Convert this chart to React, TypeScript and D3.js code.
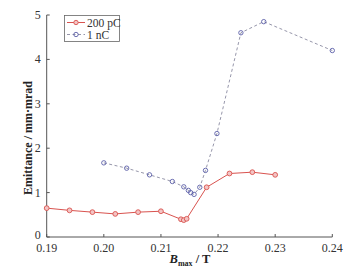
import React from "react";
import * as d3 from "d3";

const xTicks = [0.19, 0.2, 0.21, 0.22, 0.23, 0.24];
const yTicks = [0, 1, 2, 3, 4, 5];

const pc200X = [0.19, 0.194, 0.198, 0.202, 0.206, 0.21, 0.2135, 0.214, 0.2145, 0.218, 0.222, 0.226, 0.23];
const pc200Y = [0.65, 0.6, 0.56, 0.52, 0.56, 0.58, 0.4, 0.38, 0.41, 1.12, 1.43, 1.46, 1.4];

const nc1X = [0.2, 0.204, 0.208, 0.212, 0.214, 0.2148, 0.2152, 0.2158, 0.2168, 0.2178, 0.2198, 0.224, 0.228, 0.24];
const nc1Y = [1.67, 1.55, 1.4, 1.25, 1.13, 1.05, 1.0, 0.96, 1.12, 1.5, 2.33, 4.6, 4.85, 4.2];

const W = 363, H = 270;
const left = 46.7, right = 332.3, top = 15, bottom = 237;

export default function App() {
  const x = d3.scaleLinear().domain([0.19, 0.24]).range([left, right]);
  const y = d3.scaleLinear().domain([0, 5]).range([bottom, top]);
  const red = pc200X.map((v, i) => [v, pc200Y[i]] as [number, number]);
  const blue = nc1X.map((v, i) => [v, nc1Y[i]] as [number, number]);
  const line = d3.line<[number, number]>().x(d => x(d[0])).y(d => y(d[1]));
  const font = "'Liberation Serif', 'Times New Roman', serif";
  const redC = "#d9534f";
  const blueC = "#5b5fa8";
  const grayLine = "#8a8aa0";
  return (
    <svg width={W} height={H} style={{ position: "absolute", left: 0, top: 0 }} fontFamily={font}>
      <rect width={W} height={H} fill="#fff" />
      {/* axes */}
      <line x1={left} x2={left} y1={top} y2={bottom} stroke="#555" strokeWidth={1} />
      <line x1={left} x2={right} y1={bottom} y2={bottom} stroke="#555" strokeWidth={1} />
      {yTicks.map(t => (
        <g key={"y" + t}>
          <line x1={left} x2={left + 3} y1={y(t)} y2={y(t)} stroke="#555" />
          <text x={left - 6} y={y(t) + (t === 0 ? 2 : 4)} textAnchor="end" fontSize={12} fill="#333">{t}</text>
        </g>
      ))}
      {xTicks.map(t => (
        <g key={"x" + t}>
          <line x1={x(t)} x2={x(t)} y1={bottom} y2={bottom - 3} stroke="#555" />
          <text x={x(t)} y={bottom + 15} textAnchor="middle" fontSize={12} fill="#333">{t.toFixed(2)}</text>
        </g>
      ))}
      {/* series */}
      <path d={line(blue) || ""} fill="none" stroke={grayLine} strokeWidth={0.9} strokeDasharray="3,2.5" />
      {blue.map((d, i) => (
        <circle key={"b" + i} cx={x(d[0])} cy={y(d[1])} r={2.2} fill="none" stroke={blueC} strokeWidth={0.9} />
      ))}
      <path d={line(red) || ""} fill="none" stroke={redC} strokeWidth={1} />
      {red.map((d, i) => (
        <circle key={"r" + i} cx={x(d[0])} cy={y(d[1])} r={2.4} fill="#f3c4c4" stroke={redC} strokeWidth={0.9} />
      ))}
      {/* legend */}
      <rect x={64.5} y={15.5} width={55} height={26} fill="#fff" stroke="#666" strokeWidth={0.8} />
      <line x1={67} x2={85} y1={22.5} y2={22.5} stroke={redC} strokeWidth={1} />
      <circle cx={76} cy={22.5} r={2.2} fill="#f3c4c4" stroke={redC} strokeWidth={0.9} />
      <text x={87} y={26.5} fontSize={11.5} fill="#333">200 pC</text>
      <line x1={67} x2={85} y1={34.5} y2={34.5} stroke={grayLine} strokeWidth={0.9} strokeDasharray="3,2.5" />
      <circle cx={76} cy={34.5} r={2.2} fill="none" stroke={blueC} strokeWidth={0.9} />
      <text x={87} y={38.5} fontSize={11.5} fill="#333">1 nC</text>
      {/* y label */}
      <text transform={`translate(32,${(top + bottom) / 2 + 12}) rotate(-90)`} textAnchor="middle" fontSize={12} fontWeight="bold" fill="#222">
        Emittance / mm·mrad
      </text>
      {/* x label */}
      <text x={190} y={263} textAnchor="middle" fontSize={12.5} fontWeight="bold" fill="#222">
        <tspan fontStyle="italic">B</tspan>
        <tspan fontSize={8} dy={3}>max</tspan>
        <tspan dy={-3}> / T</tspan>
      </text>
    </svg>
  );
}
